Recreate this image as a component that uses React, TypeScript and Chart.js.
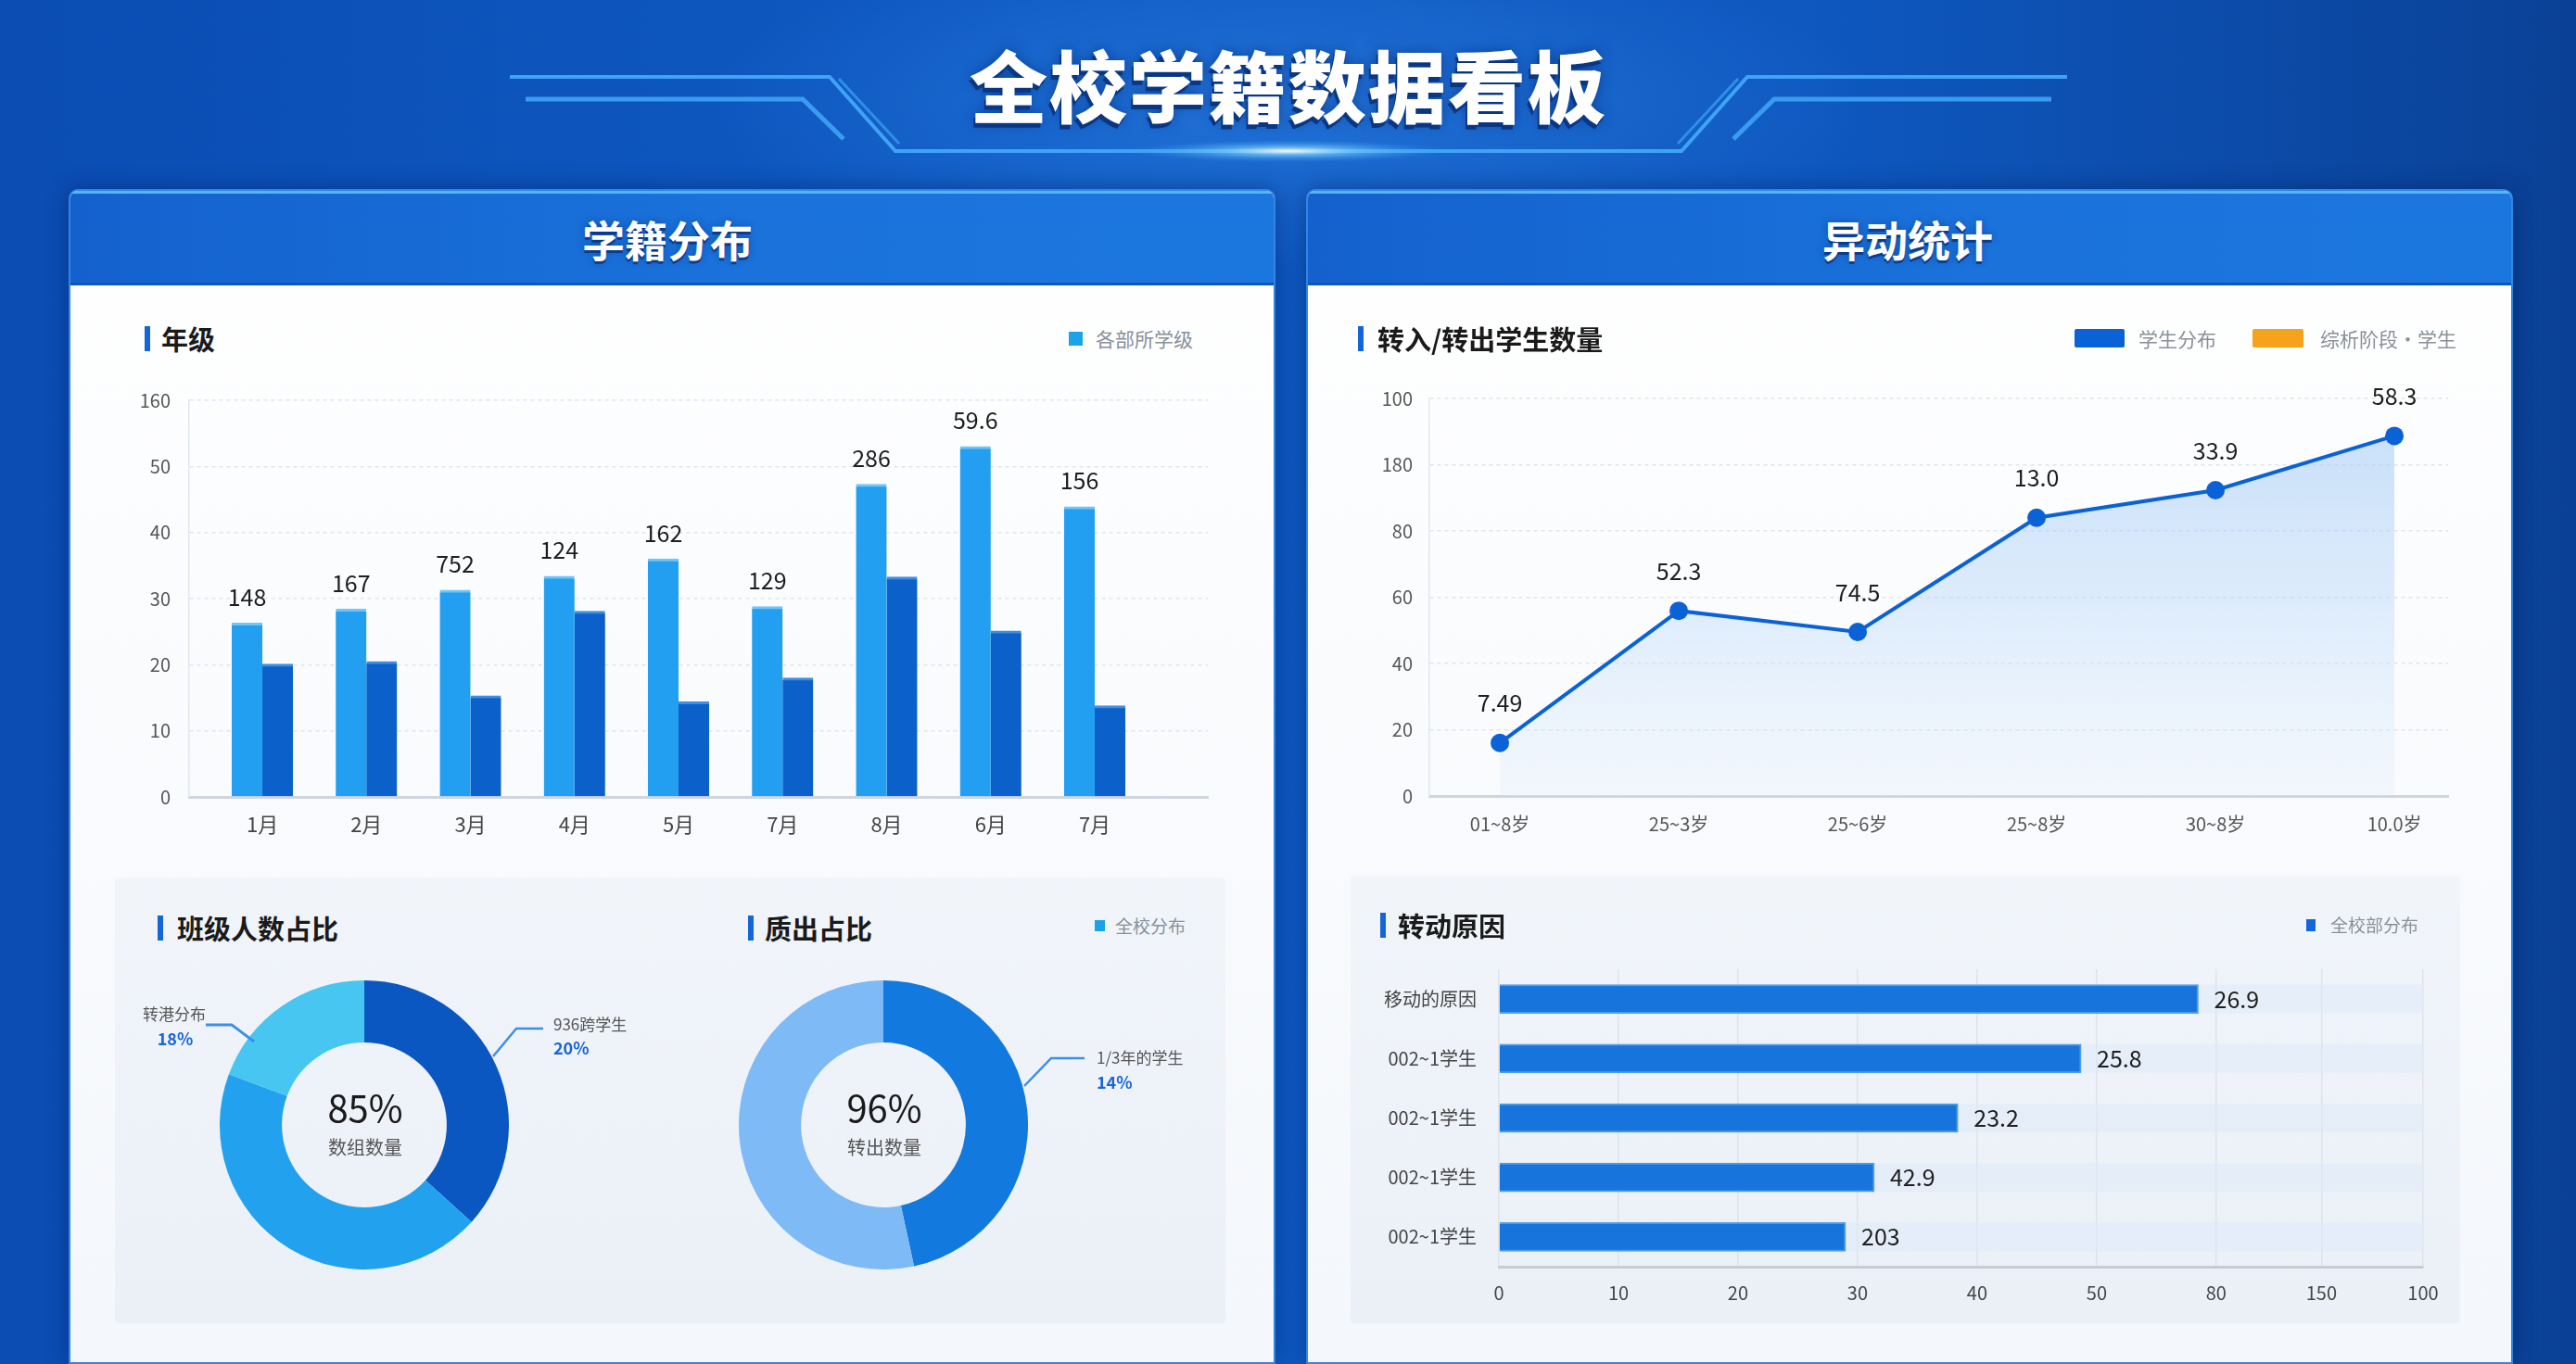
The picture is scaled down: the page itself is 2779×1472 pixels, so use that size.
import React, { useEffect, useRef } from "react";
import { Chart, registerables } from "chart.js";

Chart.register(...registerables);

const FONT = '"Noto Sans CJK SC", "Noto Sans", "DejaVu Sans", sans-serif';

// ---------- 年级 (grouped bar) ----------
const gradeLabels = ["1月", "2月", "3月", "4月", "5月", "7月", "8月", "6月", "7月"];
const gradeEnrolled = [26.3, 28.4, 31.3, 33.4, 36.0, 28.8, 47.3, 53.0, 43.9];
const gradeOther = [20.1, 20.5, 15.3, 28.1, 14.4, 18.0, 33.3, 25.1, 13.8];
const gradeValueLabels = ["148", "167", "752", "124", "162", "129", "286", "59.6", "156"];
const gradeYTicks = [0, 10, 20, 30, 40, 50, 60];
const gradeYTickLabels = ["0", "10", "20", "30", "40", "50", "160"];

// ---------- 班级人数占比 (doughnut) ----------
const classShareNames = ["936跨学生", "其他学生", "转港分布"];
const classShareValues = [36.7, 44.0, 19.3];

// ---------- 质出占比 (doughnut) ----------
const outShareNames = ["1/3年的学生", "其他学生"];
const outShareValues = [46.6, 53.4];

// ---------- 转入/转出学生数量 (line) ----------
const transferLabels = ["01~8岁", "25~3岁", "25~6岁", "25~8岁", "30~8岁", "10.0岁"];
const transferValues = [16.0, 55.9, 49.5, 84.0, 92.3, 108.7];
const transferValueLabels = ["7.49", "52.3", "74.5", "13.0", "33.9", "58.3"];
const transferYTicks = [0, 20, 40, 60, 80, 100, 120];
const transferYTickLabels = ["0", "20", "40", "60", "80", "180", "100"];

// ---------- 转动原因 (horizontal bar) ----------
const reasonLabels = ["移动的原因", "002~1学生", "002~1学生", "002~1学生", "002~1学生"];
const reasonValues = [58.5, 48.7, 38.4, 31.4, 29.0];
const reasonValueLabels = ["26.9", "25.8", "23.2", "42.9", "203"];
const reasonXTicks = [0, 10, 20, 30, 40, 50, 60, 68.8, 77.3];
const reasonXTickLabels = ["0", "10", "20", "30", "40", "50", "80", "150", "100"];

function ChartBox({ style, make }: { style: React.CSSProperties; make: () => any }) {
  const ref = useRef<HTMLCanvasElement>(null);
  useEffect(() => {
    const chart = new Chart(ref.current as HTMLCanvasElement, make());
    return () => chart.destroy();
  }, []);
  return (
    <div style={{ position: "absolute", ...style }}>
      <canvas ref={ref} />
    </div>
  );
}

const tickFont = (size: number) => ({ family: FONT, size });

function gradeConfig() {
  const labelPlugin = {
    id: "gradeValueLabels",
    afterDatasetsDraw(chart: any) {
      const meta = chart.getDatasetMeta(0);
      const c = chart.ctx;
      c.save();
      c.font = `400 25px ${FONT}`;
      c.fillStyle = "#1e1e1e";
      c.textAlign = "center";
      c.textBaseline = "middle";
      meta.data.forEach((el: any, i: number) => c.fillText(gradeValueLabels[i], el.x, el.y - 28));
      c.restore();
    },
  };
  return {
    type: "bar",
    data: {
      datasets: [
        {
          label: "各部所学级",
          data: gradeEnrolled.map((y, i) => ({ x: i, y })),
          backgroundColor: "#229ff0",
          borderColor: "#6cc6f8",
          borderWidth: { top: 3, left: 0, right: 0, bottom: 0 },
        },
        {
          label: "其他",
          data: gradeOther.map((y, i) => ({ x: i, y })),
          backgroundColor: "#0c60c9",
          borderColor: "#3d8ee4",
          borderWidth: { top: 3, left: 0, right: 0, bottom: 0 },
        },
      ],
    },
    options: {
      animation: false,
      responsive: true,
      maintainAspectRatio: false,
      layout: { padding: { top: 27, right: 37, left: 0, bottom: 0 } },
      datasets: { bar: { barThickness: 33 } },
      plugins: { legend: { display: false }, tooltip: { enabled: false } },
      scales: {
        x: {
          type: "linear",
          offset: false,
          min: -0.704,
          max: 9.087,
          afterBuildTicks: (s: any) => {
            s.ticks = gradeLabels.map((_, i) => ({ value: i }));
          },
          afterFit: (s: any) => {
            s.height = 70;
          },
          grid: { display: false, drawTicks: false, offset: false },
          border: { display: true, color: "#cfd5dc", width: 3 },
          ticks: {
            callback: (_v: any, i: number) => gradeLabels[i],
            color: "#444",
            font: tickFont(22),
            padding: 16,
            maxRotation: 0,
            autoSkip: false,
          },
        },
        y: {
          min: 0,
          max: 60,
          afterBuildTicks: (s: any) => {
            s.ticks = gradeYTicks.map((v) => ({ value: v }));
          },
          afterFit: (s: any) => {
            s.width = 64;
          },
          grid: { color: "#dfe5ec", lineWidth: 1.5, drawTicks: false },
          border: { display: true, color: "#e1e7ee", width: 1.5, dash: [4, 4] },
          ticks: {
            callback: (_v: any, i: number) => gradeYTickLabels[i],
            color: "#555",
            font: tickFont(20),
            padding: 20,
          },
        },
      },
    },
    plugins: [labelPlugin],
  };
}

function donutConfig(names: string[], values: number[], colors: string[]) {
  return {
    type: "doughnut",
    data: {
      labels: names,
      datasets: [{ data: values, backgroundColor: colors, borderWidth: 0 }],
    },
    options: {
      animation: false,
      responsive: true,
      maintainAspectRatio: false,
      cutout: "57%",
      layout: { padding: 0 },
      plugins: { legend: { display: false }, tooltip: { enabled: false } },
    },
  };
}

function transferConfig() {
  const labelPlugin = {
    id: "transferValueLabels",
    afterDatasetsDraw(chart: any) {
      const meta = chart.getDatasetMeta(0);
      const c = chart.ctx;
      c.save();
      c.font = `400 25px ${FONT}`;
      c.fillStyle = "#1e1e1e";
      c.textAlign = "center";
      c.textBaseline = "middle";
      meta.data.forEach((el: any, i: number) => c.fillText(transferValueLabels[i], el.x, el.y - 43));
      c.restore();
    },
  };
  return {
    type: "line",
    data: {
      datasets: [
        {
          label: "学生分布",
          data: transferValues.map((y, i) => ({ x: i, y })),
          borderColor: "#0a62d6",
          borderWidth: 4,
          pointRadius: 10,
          pointBackgroundColor: "#0a62d6",
          pointBorderWidth: 0,
          tension: 0,
          fill: "origin",
          backgroundColor: (ctx: any) => {
            const { chart } = ctx;
            const area = chart.chartArea;
            if (!area) return "rgba(150,195,245,0.35)";
            const g = chart.ctx.createLinearGradient(0, area.top, 0, area.bottom);
            g.addColorStop(0, "rgba(150,195,245,0.55)");
            g.addColorStop(0.5, "rgba(175,210,248,0.4)");
            g.addColorStop(1, "rgba(215,232,252,0.2)");
            return g;
          },
        },
      ],
    },
    options: {
      animation: false,
      responsive: true,
      maintainAspectRatio: false,
      layout: { padding: { top: 26, right: 49, left: 0, bottom: 0 } },
      plugins: { legend: { display: false }, tooltip: { enabled: false } },
      scales: {
        x: {
          type: "linear",
          min: -0.394,
          max: 5.3,
          afterBuildTicks: (s: any) => {
            s.ticks = transferLabels.map((_, i) => ({ value: i }));
          },
          afterFit: (s: any) => {
            s.height = 71;
          },
          grid: { display: false, drawTicks: false },
          border: { display: true, color: "#cfd5dc", width: 3 },
          ticks: {
            callback: (_v: any, i: number) => transferLabels[i],
            color: "#555",
            font: tickFont(20),
            padding: 18,
            maxRotation: 0,
            autoSkip: false,
          },
        },
        y: {
          min: 0,
          max: 120,
          afterBuildTicks: (s: any) => {
            s.ticks = transferYTicks.map((v) => ({ value: v }));
          },
          afterFit: (s: any) => {
            s.width = 72;
          },
          grid: { color: "#dfe5ec", lineWidth: 1.5, drawTicks: false },
          border: { display: true, color: "#e1e7ee", width: 1.5, dash: [4, 4] },
          ticks: {
            callback: (_v: any, i: number) => transferYTickLabels[i],
            color: "#555",
            font: tickFont(20),
            padding: 18,
          },
        },
      },
    },
    plugins: [labelPlugin],
  };
}

function reasonConfig() {
  const plugin = {
    id: "reasonTrackLabels",
    beforeDatasetsDraw(chart: any) {
      const meta = chart.getDatasetMeta(0);
      const c = chart.ctx;
      const a = chart.chartArea;
      c.save();
      c.fillStyle = "rgba(222,234,249,0.55)";
      meta.data.forEach((el: any) => {
        c.fillRect(a.left, el.y - el.height / 2, a.right - a.left, el.height);
      });
      c.restore();
    },
    afterDatasetsDraw(chart: any) {
      const meta = chart.getDatasetMeta(0);
      const c = chart.ctx;
      c.save();
      c.font = `400 25px ${FONT}`;
      c.fillStyle = "#1e1e1e";
      c.textAlign = "left";
      c.textBaseline = "middle";
      meta.data.forEach((el: any, i: number) => c.fillText(reasonValueLabels[i], el.x + 17, el.y));
      c.restore();
    },
  };
  return {
    type: "bar",
    data: {
      labels: reasonLabels,
      datasets: [
        {
          label: "全校部分布",
          data: reasonValues,
          backgroundColor: "#1674dc",
          borderColor: "#4d9de9",
          borderWidth: { top: 2, bottom: 2, right: 2, left: 0 },
          barThickness: 31,
        },
      ],
    },
    options: {
      indexAxis: "y",
      animation: false,
      responsive: true,
      maintainAspectRatio: false,
      layout: { padding: { top: 17, right: 46, left: 0, bottom: 0 } },
      plugins: { legend: { display: false }, tooltip: { enabled: false } },
      scales: {
        x: {
          min: 0,
          max: 77.3,
          afterBuildTicks: (s: any) => {
            s.ticks = reasonXTicks.map((v) => ({ value: v }));
          },
          afterFit: (s: any) => {
            s.height = 63;
          },
          grid: { color: "#dde3eb", lineWidth: 1.5, drawTicks: false },
          border: { display: true, color: "#c6ccd4", width: 3 },
          ticks: {
            callback: (_v: any, i: number) => reasonXTickLabels[i],
            color: "#444",
            font: tickFont(20),
            padding: 16,
            maxRotation: 0,
            autoSkip: false,
          },
        },
        y: {
          afterFit: (s: any) => {
            s.width = 157;
          },
          grid: { display: false, drawTicks: false },
          border: { display: false },
          ticks: { color: "#444", font: tickFont(20), padding: 24 },
        },
      },
    },
    plugins: [plugin],
  };
}

const abs = (s: React.CSSProperties): React.CSSProperties => ({ position: "absolute", ...s });

function SectionTitle({ x, y, barX, text }: { x: number; y: number; barX: number; text: string }) {
  return (
    <>
      <div style={abs({ left: barX, top: y - 13, width: 6, height: 27, background: "#1466d8" })} />
      <div
        style={abs({
          left: x,
          top: y - 22,
          height: 44,
          lineHeight: "44px",
          fontSize: 29,
          fontWeight: 700,
          color: "#1a1a1a",
          whiteSpace: "nowrap",
        })}
      >
        {text}
      </div>
    </>
  );
}

function Text({ x, y, size, color, weight, children, align }: any) {
  const style: React.CSSProperties = {
    position: "absolute",
    top: y - size * 0.75,
    height: size * 1.5,
    lineHeight: `${size * 1.5}px`,
    fontSize: size,
    color,
    fontWeight: weight || 400,
    whiteSpace: "nowrap",
  };
  if (align === "center") {
    style.left = x - 300;
    style.width = 600;
    style.textAlign = "center";
  } else {
    style.left = x;
  }
  return <div style={style}>{children}</div>;
}

function Panel({ left, title, titleX }: { left: number; title: string; titleX: number }) {
  return (
    <div
      style={abs({
        left,
        top: 204,
        width: 1298,
        height: 1264,
        borderRadius: "10px 10px 0 0",
        overflow: "hidden",
        border: "2px solid #2f86e6",
        background: "linear-gradient(180deg, #ffffff 0%, #f8fafd 60%, #f4f7fb 100%)",
        boxShadow: "0 0 24px rgba(0,25,80,0.45)",
      })}
    >
      <div
        style={abs({
          left: 0,
          top: 0,
          width: "100%",
          height: 96,
          background: "linear-gradient(90deg, #1461cd 0%, #1a72da 55%, #1b77de 100%)",
          borderTop: "3px solid #58b4f8",
          borderBottom: "3px solid #0c56c2",
        })}
      />
      <div
        style={abs({
          left: titleX - left - 2 - 300,
          top: 51 - 30,
          width: 600,
          height: 60,
          lineHeight: "60px",
          textAlign: "center",
          fontSize: 46,
          fontWeight: 700,
          color: "#ffffff",
          textShadow: "0 3px 0 rgba(8,50,130,0.8), 0 0 8px rgba(0,30,100,0.4)",
        })}
      >
        {title}
      </div>
    </div>
  );
}

export default function App() {
  return (
    <div
      style={{
        position: "absolute",
        left: 0,
        top: 0,
        width: 2779,
        height: 1472,
        overflow: "hidden",
        fontFamily: FONT,
        background:
          "radial-gradient(ellipse 900px 260px at 50% 110px, rgba(70,160,255,0.35), rgba(70,160,255,0) 70%), linear-gradient(90deg, #0b4db3 0%, #0e5ac3 40%, #0e58c0 70%, #0a4196 100%)",
      }}
    >
      {/* title decorations */}
      <svg width={2779} height={220} style={abs({ left: 0, top: 0 })}>
        <defs>
          <radialGradient id="glow" cx="50%" cy="50%" r="50%">
            <stop offset="0%" stopColor="#ffffff" stopOpacity="0.95" />
            <stop offset="40%" stopColor="#7fd0ff" stopOpacity="0.6" />
            <stop offset="100%" stopColor="#3aa0f0" stopOpacity="0" />
          </radialGradient>
          <linearGradient id="fadeL" x1="0" x2="1">
            <stop offset="0%" stopColor="#3e9cf0" stopOpacity="0.1" />
            <stop offset="100%" stopColor="#4aa8f5" stopOpacity="0.8" />
          </linearGradient>
          <linearGradient id="fadeR" x1="0" x2="1">
            <stop offset="0%" stopColor="#4aa8f5" stopOpacity="0.8" />
            <stop offset="100%" stopColor="#3e9cf0" stopOpacity="0.1" />
          </linearGradient>
        </defs>
        <line x1={0} y1={107} x2={565} y2={107} stroke="url(#fadeL)" strokeWidth={4} />
        <line x1={2214} y1={107} x2={2779} y2={107} stroke="url(#fadeR)" strokeWidth={4} />
        <polyline points="550,83 895,83 966,163 1814,163 1885,83 2230,83" stroke="#3fa4f4" strokeWidth={4} fill="none" />
        <polyline points="567,107 866,107 910,150" stroke="#3a9cf0" strokeWidth={5} fill="none" />
        <polyline points="2213,107 1914,107 1870,150" stroke="#3a9cf0" strokeWidth={5} fill="none" />
        <line x1={905} y1={85} x2={970} y2={155} stroke="#2f8fe6" strokeWidth={3} />
        <line x1={1875} y1={85} x2={1810} y2={155} stroke="#2f8fe6" strokeWidth={3} />
        <ellipse cx={1390} cy={163} rx={170} ry={12} fill="url(#glow)" />
        <line x1={36} y1={290} x2={36} y2={920} stroke="rgba(110,180,255,0.35)" strokeWidth={2} strokeDasharray="6 8" />
        <line x1={2745} y1={290} x2={2745} y2={920} stroke="rgba(110,180,255,0.35)" strokeWidth={2} strokeDasharray="6 8" />
      </svg>

      <div
        style={abs({
          left: 890,
          top: 40,
          width: 1000,
          height: 100,
          lineHeight: "100px",
          textAlign: "center",
          fontSize: 84,
          fontWeight: 900,
          color: "#ffffff",
          letterSpacing: 2,
          textShadow: "-2px 5px 0 #0a3784, 0 0 14px rgba(0,30,100,0.5)",
        })}
      >
        全校学籍数据看板
      </div>

      <Panel left={74} title="学籍分布" titleX={720} />
      <Panel left={1409} title="异动统计" titleX={2058} />

      {/* ---------- left top: 年级 ---------- */}
      <SectionTitle x={174} y={365} barX={156} text="年级" />
      <div style={abs({ left: 1153, top: 358, width: 15, height: 15, background: "#1aa3e8" })} />
      <Text x={1182} y={366} size={21} color="#8a9098">各部所学级</Text>
      <ChartBox style={{ left: 140, top: 400, width: 1200, height: 530 }} make={gradeConfig} />

      {/* ---------- left bottom: doughnuts ---------- */}
      <div
        style={abs({
          left: 124,
          top: 947,
          width: 1198,
          height: 481,
          borderRadius: 4,
          background: "linear-gradient(180deg, #f1f5fa 0%, #ebf0f7 100%)",
        })}
      />
      <SectionTitle x={191} y={1001} barX={170} text="班级人数占比" />
      <SectionTitle x={825} y={1001} barX={807} text="质出占比" />
      <div style={abs({ left: 1181, top: 993, width: 11, height: 12, background: "#1aa3e8" })} />
      <Text x={1203} y={999} size={19} color="#8a9098">全校分布</Text>

      <ChartBox
        style={{ left: 237, top: 1058, width: 312, height: 312 }}
        make={() => donutConfig(classShareNames, classShareValues, ["#0b57c2", "#22a2ee", "#47c6f2"])}
      />
      <ChartBox
        style={{ left: 797, top: 1058, width: 312, height: 312 }}
        make={() => donutConfig(outShareNames, outShareValues, ["#1279de", "#7ebaf5"])}
      />
      <Text x={394} y={1194} size={40} color="#1a1a1a" align="center">85%</Text>
      <Text x={394} y={1238} size={20} color="#555" align="center">数组数量</Text>
      <Text x={954} y={1194} size={40} color="#1a1a1a" align="center">96%</Text>
      <Text x={954} y={1238} size={20} color="#555" align="center">转出数量</Text>

      <svg width={2779} height={1472} style={abs({ left: 0, top: 0, pointerEvents: "none" })}>
        <polyline points="222,1106 250,1106 274,1124" stroke="#3b8fe6" strokeWidth={3} fill="none" />
        <polyline points="586,1110 557,1110 532,1140" stroke="#3b8fe6" strokeWidth={2.5} fill="none" />
        <polyline points="1170,1142 1134,1142 1105,1172" stroke="#3b8fe6" strokeWidth={2.5} fill="none" />
      </svg>
      <Text x={188} y={1094} size={17} color="#555" align="center">转港分布</Text>
      <Text x={189} y={1120} size={18} color="#1766d6" weight={700} align="center">18%</Text>
      <Text x={597} y={1105} size={17} color="#555">936跨学生</Text>
      <Text x={597} y={1130} size={18} color="#1766d6" weight={700}>20%</Text>
      <Text x={1183} y={1141} size={17} color="#555">1/3年的学生</Text>
      <Text x={1183} y={1167} size={18} color="#1766d6" weight={700}>14%</Text>

      {/* ---------- right top: line ---------- */}
      <SectionTitle x={1486} y={365} barX={1465} text="转入/转出学生数量" />
      <div style={abs({ left: 2238, top: 355, width: 54, height: 20, background: "#0a62d6", borderRadius: 2 })} />
      <Text x={2307} y={366} size={21} color="#8a9098">学生分布</Text>
      <div style={abs({ left: 2430, top: 355, width: 55, height: 20, background: "#f7a21b", borderRadius: 2 })} />
      <Text x={2503} y={366} size={21} color="#8a9098">综析阶段·学生</Text>
      <ChartBox style={{ left: 1470, top: 400, width: 1220, height: 530 }} make={transferConfig} />

      {/* ---------- right bottom: horizontal bar ---------- */}
      <div
        style={abs({
          left: 1457,
          top: 945,
          width: 1197,
          height: 483,
          borderRadius: 4,
          background: "linear-gradient(180deg, #f1f5fa 0%, #ebf0f7 100%)",
        })}
      />
      <SectionTitle x={1508} y={998} barX={1489} text="转动原因" />
      <div style={abs({ left: 2488, top: 992, width: 10, height: 13, background: "#1466d8" })} />
      <Text x={2514} y={998} size={19} color="#8a9098">全校部分布</Text>
      <ChartBox style={{ left: 1460, top: 1010, width: 1200, height: 420 }} make={reasonConfig} />
    </div>
  );
}
